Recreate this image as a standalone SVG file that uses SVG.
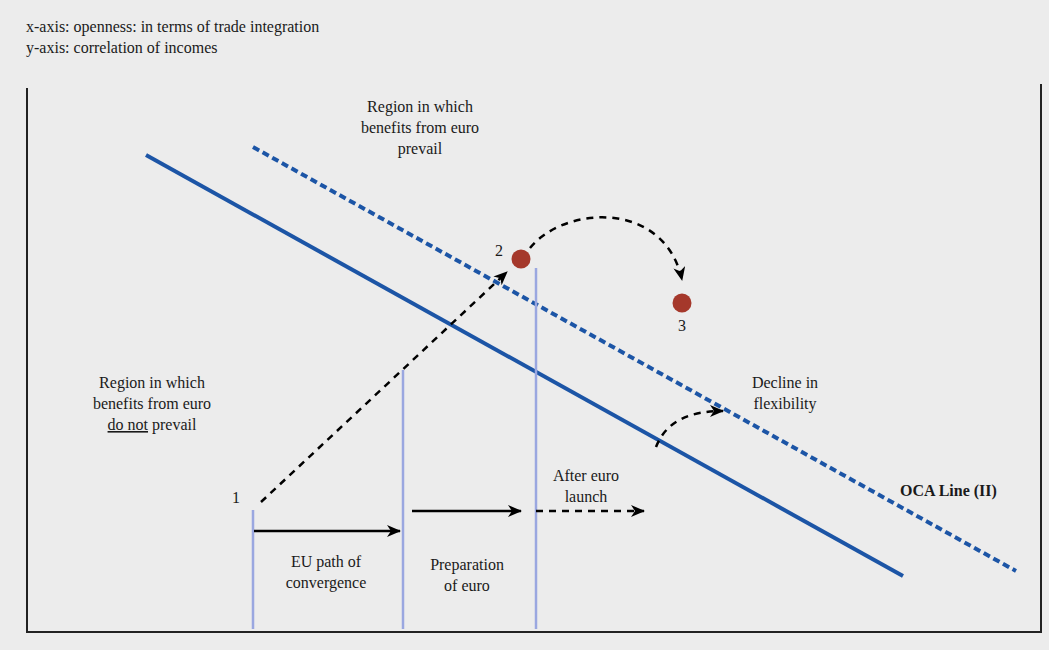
<svg xmlns="http://www.w3.org/2000/svg" width="1049" height="650" viewBox="0 0 1049 650">
<defs>
<marker id="ah" viewBox="0 0 14 12" refX="13" refY="6" markerWidth="14" markerHeight="12" markerUnits="userSpaceOnUse" orient="auto">
<path d="M0,0 L14,6 L0,12 L4,6 z" fill="#000"/>
</marker>
</defs>
<style>
text{font-family:"Liberation Serif","Times New Roman",serif;font-size:16px;fill:#1a1a1a}
.c{text-anchor:middle}
.blue{stroke:#1c55a6;stroke-width:4;fill:none}
.vl{stroke:#9aa7e0;stroke-width:2.5;fill:none}
.arr{stroke:#000;stroke-width:2.5;fill:none;marker-end:url(#ah)}
.dash{stroke-dasharray:7 6}
.dot{fill:#a5382b}
.fr{stroke:#222;stroke-width:2;fill:none}
</style>
<rect width="1049" height="650" fill="#ececec"/>
<g id="frame">
<line class="fr" x1="27" y1="88" x2="27" y2="632"/>
<line class="fr" x1="26" y1="632" x2="1042" y2="632"/>
<line class="fr" x1="1041" y1="84" x2="1041" y2="633"/>
</g>
<g id="axis-labels">
<text x="26" y="32">x-axis: openness: in terms of trade integration</text>
<text x="26" y="53">y-axis: correlation of incomes</text>
</g>
<g id="connectors">
<line id="oca-line-1" class="blue" x1="146" y1="155" x2="903" y2="576"/>
<line id="oca-line-2" class="blue" x1="253" y1="147" x2="1016" y2="571" stroke-dasharray="7 4"/>
<line class="vl" x1="253" y1="510" x2="253" y2="629"/>
<line class="vl" x1="403" y1="370" x2="403" y2="629"/>
<line class="vl" x1="536" y1="268" x2="536" y2="629"/>
<line class="arr dash" x1="261" y1="502" x2="507" y2="272"/>
<path class="arr dash" d="M530,248 C565,205 665,200 682,280"/>
<path class="arr dash" d="M656,447 C666,421 690,411 723,411"/>
<line class="arr" x1="254" y1="531" x2="400" y2="531"/>
<line class="arr" x1="412" y1="511" x2="521" y2="511"/>
<line class="arr dash" x1="536" y1="511" x2="644" y2="511"/>
</g>
<g id="point-1"><text class="c" x="236" y="503">1</text></g>
<g id="point-2"><circle class="dot" cx="521" cy="259" r="9.5"/><text class="c" x="499" y="256">2</text></g>
<g id="point-3"><circle class="dot" cx="682" cy="303" r="9.5"/><text class="c" x="682" y="331">3</text></g>
<g id="region-prevail">
<text class="c" x="420" y="112">Region in which</text>
<text class="c" x="420" y="133">benefits from euro</text>
<text class="c" x="420" y="154">prevail</text>
</g>
<g id="region-not-prevail">
<text class="c" x="152" y="388">Region in which</text>
<text class="c" x="152" y="409">benefits from euro</text>
<text class="c" x="152" y="430"><tspan text-decoration="underline">do not</tspan> prevail</text>
</g>
<g id="eu-path"><text class="c" x="326" y="567">EU path of</text><text class="c" x="326" y="588">convergence</text></g>
<g id="preparation"><text class="c" x="467" y="570">Preparation</text><text class="c" x="467" y="591">of euro</text></g>
<g id="after-launch"><text class="c" x="586" y="481">After euro</text><text class="c" x="586" y="502">launch</text></g>
<g id="decline"><text class="c" x="785" y="388">Decline in</text><text class="c" x="785" y="409">flexibility</text></g>
<g id="oca-label"><text x="900" y="496" font-weight="bold">OCA Line (II)</text></g>
</svg>
